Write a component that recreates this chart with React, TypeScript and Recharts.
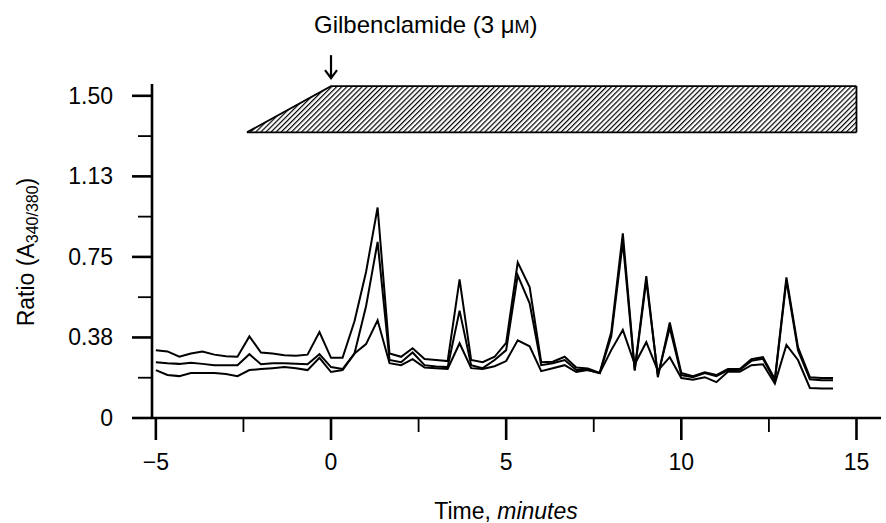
import { ComposedChart, Line, Area, XAxis, YAxis, ReferenceLine, ReferenceDot, Label } from 'recharts';

// sampling times, minutes (one reading every 20 s)
const times = [
  -5, -4.67, -4.33, -4, -3.67, -3.33, -3, -2.67, -2.33, -2, -1.67, -1.33, -1, -0.67, -0.33,
  0, 0.33, 0.67, 1, 1.33, 1.67, 2, 2.33, 2.67, 3, 3.33, 3.67, 4, 4.33, 4.67,
  5, 5.33, 5.67, 6, 6.33, 6.67, 7, 7.33, 7.67, 8, 8.33, 8.67, 9, 9.33, 9.67,
  10, 10.33, 10.67, 11, 11.33, 11.67, 12, 12.33, 12.67, 13, 13.33, 13.67, 14, 14.33,
];

const upperTrace = [
  0.315, 0.31, 0.285, 0.3, 0.31, 0.295, 0.288, 0.285, 0.38, 0.305, 0.3, 0.292, 0.29, 0.295, 0.4,
  0.28, 0.28, 0.45, 0.68, 0.98, 0.3, 0.285, 0.325, 0.275, 0.27, 0.265, 0.645, 0.27, 0.26, 0.285,
  0.35, 0.725, 0.61, 0.26, 0.262, 0.285, 0.235, 0.23, 0.21, 0.4, 0.86, 0.225, 0.66, 0.19, 0.445,
  0.21, 0.195, 0.213, 0.2, 0.228, 0.228, 0.274, 0.283, 0.18, 0.655, 0.33, 0.19, 0.186, 0.186,
];

const middleTrace = [
  0.26, 0.255, 0.252, 0.257, 0.252, 0.246, 0.246, 0.246, 0.297, 0.25, 0.255, 0.255, 0.252, 0.25, 0.297,
  0.237, 0.228, 0.3, 0.52, 0.82, 0.27, 0.26, 0.305, 0.246, 0.24, 0.237, 0.5, 0.246, 0.232, 0.27,
  0.316, 0.664, 0.534, 0.246, 0.255, 0.27, 0.223, 0.223, 0.209, 0.38, 0.82, 0.22, 0.64, 0.2, 0.42,
  0.2, 0.19, 0.209, 0.195, 0.223, 0.223, 0.266, 0.276, 0.175, 0.64, 0.316, 0.18, 0.176, 0.176,
];

const lowerTrace = [
  0.223, 0.2, 0.195, 0.209, 0.209, 0.209, 0.205, 0.195, 0.223, 0.228, 0.232, 0.237, 0.232, 0.223, 0.28,
  0.214, 0.223, 0.3, 0.344, 0.455, 0.255, 0.246, 0.274, 0.235, 0.232, 0.228, 0.348, 0.232, 0.228, 0.241,
  0.265, 0.362, 0.334, 0.218, 0.232, 0.246, 0.214, 0.223, 0.209, 0.316, 0.41, 0.25, 0.353, 0.22, 0.283,
  0.186, 0.178, 0.19, 0.167, 0.215, 0.215, 0.246, 0.25, 0.16, 0.34, 0.27, 0.14, 0.137, 0.137,
];

// hatched bar marking drug application
const drugTimes = [-2.4, 0, 15];
const drugLow = [1.33, 1.33, 1.33];
const drugHigh = [1.33, 1.545, 1.545];

const xMajorTicks = [-5, 0, 5, 10, 15];
const xTickLabels = ['\u22125', '0', '5', '10', '15'];
const xMinorTicks = [-2.5, 2.5, 7.5, 12.5];
const yMajorTicks = [0, 0.375, 0.75, 1.125, 1.5];
const yTickLabels = ['0', '0.38', '0.75', '1.13', '1.50'];
const yMinorTicks = [0.1875, 0.5625, 0.9375, 1.3125];

const rows = times.map((t, i) => ({ t, upper: upperTrace[i], middle: middleTrace[i], lower: lowerTrace[i] }));
const drugRows = drugTimes.map((t, i) => ({ t, band: [drugLow[i], drugHigh[i]] }));

const FONT = '"Liberation Sans", Arial, Helvetica, sans-serif';

function XTick(props: any) {
  const { x, y, payload } = props;
  const i = xMajorTicks.indexOf(payload.value);
  const major = i >= 0;
  return (
    <g>
      <line x1={x} x2={x} y1={y} y2={y + (major ? 22 : 14)} stroke="#000" strokeWidth={major ? 2.6 : 1.8} />
      {major && (
        <text x={x} y={y + 52} textAnchor="middle" fontSize={23} fontFamily={FONT} fill="#000">
          {xTickLabels[i]}
        </text>
      )}
    </g>
  );
}

function YTick(props: any) {
  const { x, y, payload } = props;
  const i = yMajorTicks.indexOf(payload.value);
  const major = i >= 0;
  return (
    <g>
      <line x1={x - (major ? 20 : 14)} x2={x} y1={y} y2={y} stroke="#000" strokeWidth={major ? 2.6 : 1.8} />
      {major && (
        <text x={x - 39} y={y + 8} textAnchor="end" fontSize={23} fontFamily={FONT} fill="#000">
          {yTickLabels[i]}
        </text>
      )}
    </g>
  );
}

function TimeTitle() {
  return (
    <text x={506} y={519} textAnchor="middle" fontSize={23} fontFamily={FONT} fill="#000">
      Time, <tspan fontStyle="italic">minutes</tspan>
    </text>
  );
}

function RatioTitle() {
  return (
    <text
      x={26}
      y={252}
      transform="rotate(-90, 26, 252)"
      textAnchor="middle"
      dominantBaseline="central"
      fontSize={23}
      fontFamily={FONT}
      fill="#000"
    >
      Ratio (A<tspan dy={6} fontSize={16}>340/380</tspan>
      <tspan dy={-6}>)</tspan>
    </text>
  );
}

function DrugMarker(props: any) {
  const { cx, cy } = props;
  return (
    <g>
      <text x={cx - 17} y={cy - 53} textAnchor="start" fontSize={24} fontFamily={FONT} fill="#000">
        Gilbenclamide (3 {'\u03bc'}
        <tspan fontSize={18}>M</tspan>)
      </text>
      <line x1={cx} x2={cx} y1={cy - 31} y2={cy - 8} stroke="#000" strokeWidth={2.2} />
      <polyline
        points={`${cx - 6},${cy - 16} ${cx},${cy - 8} ${cx + 6},${cy - 16}`}
        fill="none"
        stroke="#000"
        strokeWidth={2.2}
      />
    </g>
  );
}

export default function App() {
  return (
    <div style={{ position: 'absolute', left: 0, top: 0, background: '#fff' }}>
      <svg width={0} height={0} style={{ position: 'absolute' }}>
        <defs>
          <pattern id="hatch" patternUnits="userSpaceOnUse" width={3.6} height={3.6} patternTransform="rotate(45)">
            <rect width={3.6} height={3.6} fill="#fff" />
            <line x1={0} y1={0} x2={0} y2={3.6} stroke="#000" strokeWidth={2.4} />
          </pattern>
        </defs>
      </svg>
      <ComposedChart width={886} height={523} data={rows} margin={{ top: 84, right: 5, bottom: 45, left: 52 }}>
        <XAxis
          dataKey="t"
          type="number"
          domain={[-5.11, 15.7]}
          allowDataOverflow
          ticks={[...xMajorTicks, ...xMinorTicks].sort((a, b) => a - b)}
          interval={0}
          tick={XTick}
          tickLine={false}
          tickSize={0}
          tickMargin={0}
          height={60}
          axisLine={{ stroke: '#000', strokeWidth: 2.6 }}
        >
          <Label content={TimeTitle} />
        </XAxis>
        <YAxis
          type="number"
          domain={[0, 1.555]}
          allowDataOverflow
          ticks={[...yMajorTicks, ...yMinorTicks].sort((a, b) => a - b)}
          interval={0}
          tick={YTick}
          tickLine={false}
          tickSize={0}
          tickMargin={0}
          width={100}
          axisLine={{ stroke: '#000', strokeWidth: 2.6 }}
        >
          <Label content={RatioTitle} />
        </YAxis>
        <Area
          data={drugRows}
          dataKey="band"
          type="linear"
          stroke="#000"
          strokeWidth={1.8}
          fill="url(#hatch)"
          fillOpacity={1}
          isAnimationActive={false}
        />
        <ReferenceLine
          segment={[
            { x: 15, y: 1.33 },
            { x: 15, y: 1.545 },
          ]}
          stroke="#000"
          strokeWidth={1.8}
        />
        <ReferenceDot x={0} y={1.545} r={0} shape={DrugMarker} />
        <Line dataKey="upper" type="linear" stroke="#000" strokeWidth={2} dot={false} isAnimationActive={false} />
        <Line dataKey="middle" type="linear" stroke="#000" strokeWidth={2} dot={false} isAnimationActive={false} />
        <Line dataKey="lower" type="linear" stroke="#000" strokeWidth={2} dot={false} isAnimationActive={false} />
      </ComposedChart>
    </div>
  );
}
